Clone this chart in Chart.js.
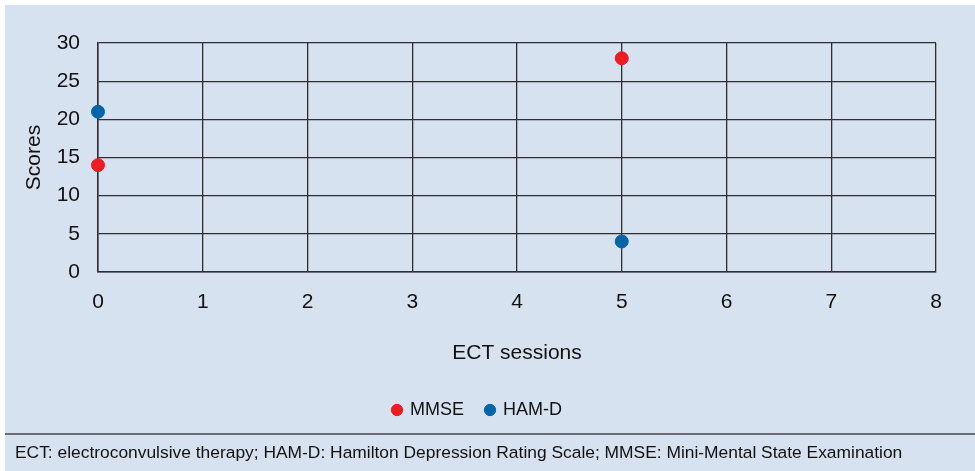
<!DOCTYPE html>
<html>
<head>
<meta charset="utf-8">
<script src="https://cdn.jsdelivr.net/npm/chart.js@4"></script>
<style>
  body { margin: 0; background: #fff; font-family: "Liberation Sans", Arial, sans-serif; }
  #panel { position: absolute; left: 5px; top: 5px; width: 970px; height: 466px; background: #d6e2f0; overflow: hidden; }
  #chartBox { position: absolute; left: 0; top: 0; width: 970px; height: 440px; }
  #sep { position: absolute; left: 0; top: 428px; width: 970px; height: 2px; background: #6b6e72; }
  #note { position: absolute; left: 10px; top: 437px; font-size: 17.4px; color: #111; white-space: nowrap; }
</style>
</head>
<body>
<div id="panel">
  <div id="chartBox"><canvas id="myChart"></canvas></div>
  <div id="sep"></div>
  <div id="note">ECT: electroconvulsive therapy; HAM-D: Hamilton Depression Rating Scale; MMSE: Mini-Mental State Examination</div>
</div>
<script>
const sessions = [0, 5]
const mmseScores = [14, 28]
const hamdScores = [21, 4]
const seriesNames = ['MMSE', 'HAM-D']

const toPoints = (ys) => sessions.map((x, i) => ({ x: x, y: ys[i] }))

const font = { family: '"Liberation Sans", Arial, sans-serif', size: 21 }
const gridColor = '#2e2f31'

var ctx = document.getElementById('myChart').getContext('2d')
var chart = new Chart(ctx, {
    type: 'scatter',
    data: {
        datasets: [{
            label: seriesNames[0],
            data: toPoints(mmseScores),
            backgroundColor: '#ec1c24',
            borderColor: '#ec1c24',
            pointRadius: 6.5,
            pointHoverRadius: 6.5,
            clip: false
        },
        {
            label: seriesNames[1],
            data: toPoints(hamdScores),
            backgroundColor: '#0563a8',
            borderColor: '#0563a8',
            pointRadius: 6.5,
            pointHoverRadius: 6.5,
            clip: false
        }]
    },
    options: {
        responsive: true,
        maintainAspectRatio: false,
        animation: false,
        layout: { padding: { top: 38, right: 39, bottom: 16, left: 14 } },
        plugins: {
            tooltip: { enabled: false },
            legend: {
                position: 'bottom',
                labels: {
                    usePointStyle: true,
                    pointStyle: 'circle',
                    boxWidth: 8,
                    boxHeight: 8,
                    padding: 22,
                    color: '#111',
                    font: { family: font.family, size: 18 }
                }
            }
        },
        scales: {
            x: {
                type: 'linear',
                min: 0,
                max: 8,
                afterFit: (s) => { s.height = 107 },
                ticks: { stepSize: 1, color: '#111', font: font, padding: 18 },
                grid: { color: gridColor, lineWidth: 1.3, drawTicks: false },
                border: { color: gridColor, width: 1.5 },
                title: { display: true, text: 'ECT sessions', color: '#111', font: font, padding: { top: 0, bottom: 13 } }
            },
            y: {
                min: 0,
                max: 30,
                afterFit: (s) => { s.width = 79 },
                ticks: { stepSize: 5, color: '#111', font: font, padding: 18 },
                grid: { color: gridColor, lineWidth: 1.3, drawTicks: false },
                border: { color: gridColor, width: 1.5 },
                title: { display: true, text: 'Scores', color: '#111', font: font, padding: { top: 3, bottom: 0 } }
            }
        }
    }
})
</script>
</body>
</html>
